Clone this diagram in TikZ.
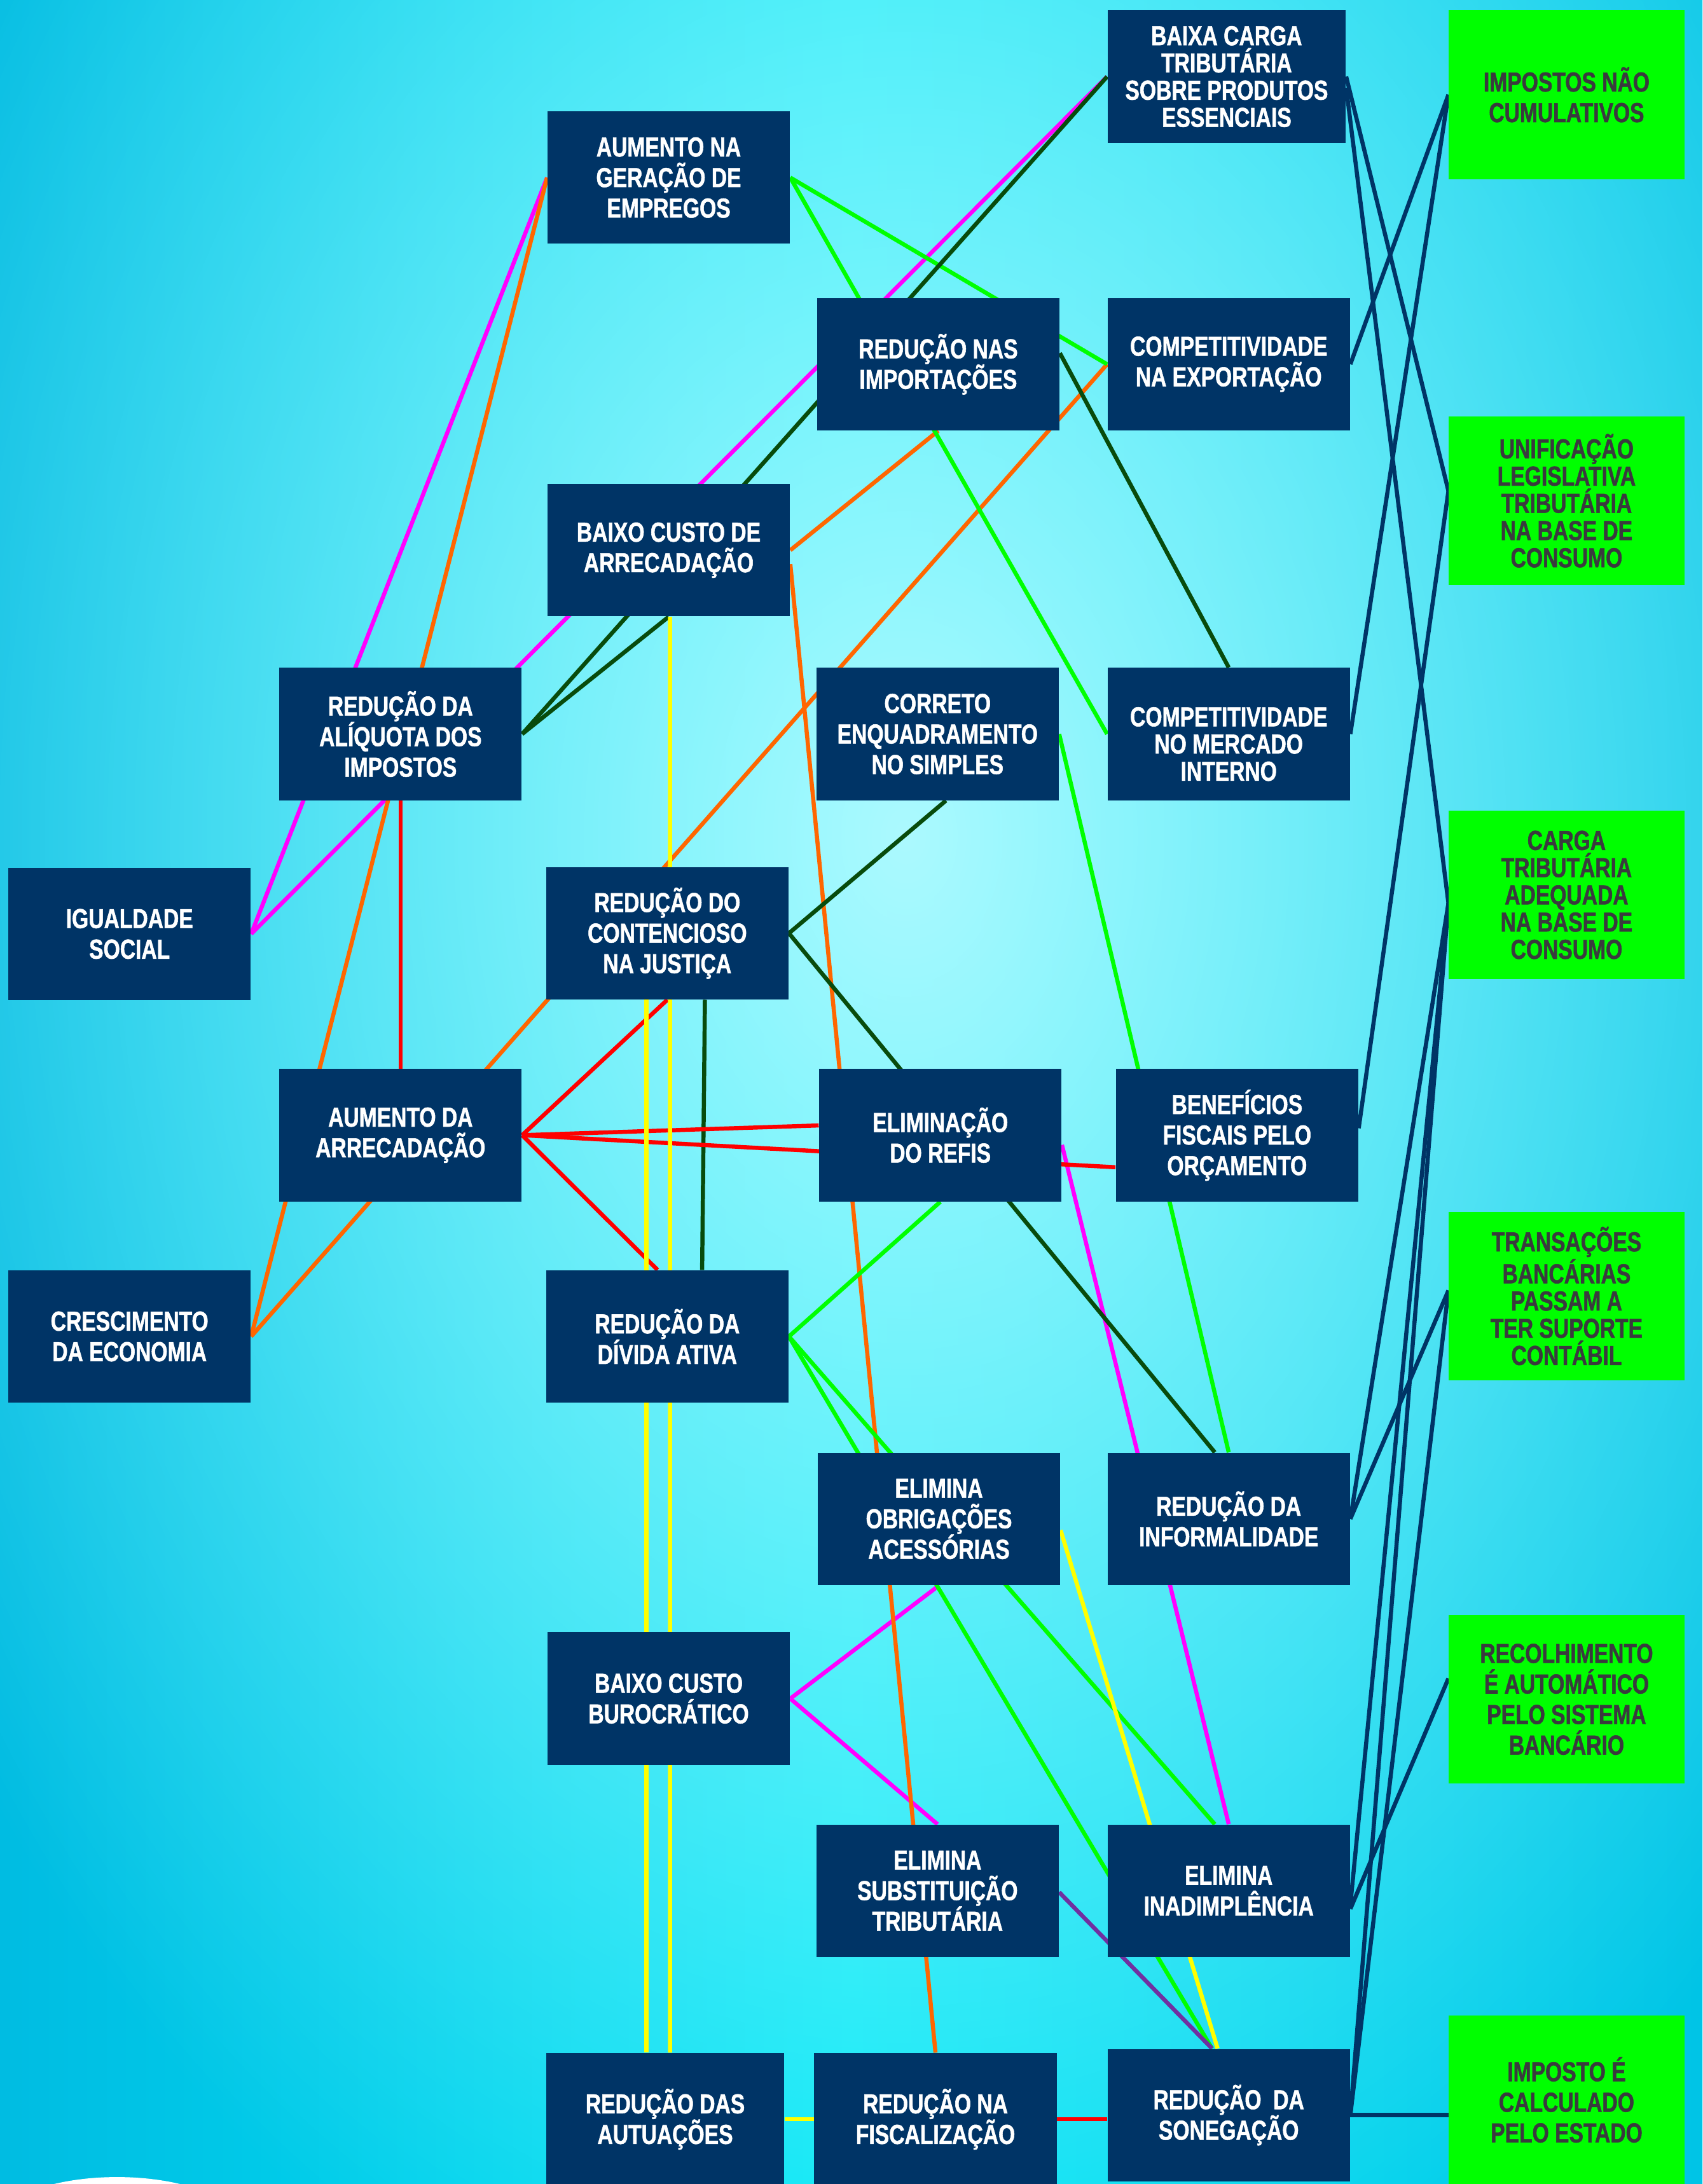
\documentclass[tikz,border=0pt]{standalone}
\usepackage{fontspec}
\setmainfont{Liberation Sans}[FakeStretch=0.78, BoldFeatures={FakeBold=1.2}]
\usetikzlibrary{calc,fadings}
\definecolor{boxblue}{RGB}{0,52,102}
\definecolor{goalgreen}{RGB}{0,255,0}
\definecolor{goaltext}{RGB}{58,58,62}
\definecolor{lmag}{RGB}{255,0,255}
\definecolor{lorange}{RGB}{255,102,0}
\definecolor{lgreen}{RGB}{0,255,0}
\definecolor{ldark}{RGB}{8,75,12}
\definecolor{lred}{RGB}{255,0,0}
\definecolor{lyellow}{RGB}{255,255,0}
\definecolor{lpurple}{RGB}{112,48,160}
\definecolor{bgL}{RGB}{0,188,226}
\definecolor{bgM}{RGB}{0,232,246}
\definecolor{bgR}{RGB}{0,196,230}
\definecolor{bgLight}{RGB}{172,250,255}
\tikzfading[name=blob, inner color=transparent!0, outer color=transparent!100]
\pgfdeclarelayer{bg}
\pgfdeclarelayer{links}
\pgfsetlayers{bg,links,main}
\tikzset{
  box/.style={minimum width=4.35cm, minimum height=2.375cm, inner sep=0pt, align=center},
  cause/.style={box, fill=boxblue, text=white, font=\fontsize{14}{15.6}\selectfont\bfseries},
  goal/.style={box, fill=goalgreen, text=goaltext, minimum width=4.225cm, minimum height=3.025cm,
    font=\fontsize{14}{15.6}\selectfont\bfseries},
  tight/.style={font=\fontsize{14}{13.9}\selectfont\bfseries},
  link/.style={line width=2.1pt}
}
\begin{document}
\begin{tikzpicture}[x=0.025cm, y=-0.025cm]
\useasboundingbox (0,0) rectangle (1222,1568);
\begin{pgfonlayer}{bg}
\fill[left color=bgL, right color=bgR, middle color=bgM] (0,0) rectangle (1222,1568);
\fill[bgLight, path fading=blob] (650,600) ellipse [x radius=820, y radius=1150];
\fill[white] (84,1600) ellipse [x radius=90, y radius=37];
\end{pgfonlayer}

\node[cause] (igualdade) at (93,670.5) {IGUALDADE\\SOCIAL};
\node[cause] (crescimento) at (93,959.5) {CRESCIMENTO\\DA ECONOMIA};
\node[cause] (aliquota) at (287.5,527) {REDUÇÃO DA\\ALÍQUOTA DOS\\IMPOSTOS};
\node[cause] (arrecadacao) at (287.5,815) {AUMENTO DA\\ARRECADAÇÃO};
\node[cause] (geracao) at (480,127.5) {AUMENTO NA\\GERAÇÃO DE\\EMPREGOS};
\node[cause] (baixoarr) at (480,395) {BAIXO CUSTO DE\\ARRECADAÇÃO};
\node[cause] (contencioso) at (479,670) {REDUÇÃO DO\\CONTENCIOSO\\NA JUSTIÇA};
\node[cause] (divida) at (479,959.5) {REDUÇÃO DA\\DÍVIDA ATIVA};
\node[cause] (burocratico) at (480,1219.5) {BAIXO CUSTO\\BUROCRÁTICO};
\node[cause, minimum width=4.275cm] (autuacoes) at (477.5,1521.5) {REDUÇÃO DAS\\AUTUAÇÕES};
\node[cause] (importacoes) at (673.5,261.5) {REDUÇÃO NAS\\IMPORTAÇÕES};
\node[cause] (correto) at (673,527) {CORRETO\\ENQUADRAMENTO\\NO SIMPLES};
\node[cause] (refis) at (675,815) {ELIMINAÇÃO\\DO REFIS};
\node[cause] (obrigacoes) at (674,1090.5) {ELIMINA\\OBRIGAÇÕES\\ACESSÓRIAS};
\node[cause] (substituicao) at (673,1357.5) {ELIMINA\\SUBSTITUIÇÃO\\TRIBUTÁRIA};
\node[cause] (fiscalizacao) at (671.5,1521.5) {REDUÇÃO NA\\FISCALIZAÇÃO};
\node[cause, tight, minimum width=4.275cm] (baixacarga) at (880.5,55) {BAIXA CARGA\\TRIBUTÁRIA\\SOBRE PRODUTOS\\ESSENCIAIS};
\node[cause] (exportacao) at (882,261.5) {COMPETITIVIDADE\\NA EXPORTAÇÃO};
\node[cause, tight] (mercado) at (882,527) {\rule{0pt}{20pt}COMPETITIVIDADE\\NO MERCADO\\INTERNO};
\node[cause] (beneficios) at (888,815) {BENEFÍCIOS\\FISCAIS PELO\\ORÇAMENTO};
\node[cause] (informalidade) at (882,1090.5) {REDUÇÃO DA\\INFORMALIDADE};
\node[cause] (inadimplencia) at (882,1357.5) {ELIMINA\\INADIMPLÊNCIA};
\node[cause] (sonegacao) at (882,1518.5) {REDUÇÃO\ \ DA\\SONEGAÇÃO};

\node[goal] (impostos) at (1124.5,68) {IMPOSTOS NÃO\\CUMULATIVOS};
\node[goal, tight] (unificacao) at (1124.5,359.5) {UNIFICAÇÃO\\LEGISLATIVA\\TRIBUTÁRIA\\NA BASE DE\\CONSUMO};
\node[goal, tight] (carga) at (1124.5,642.5) {CARGA\\TRIBUTÁRIA\\ADEQUADA\\NA BASE DE\\CONSUMO};
\node[goal, tight] (transacoes) at (1124.5,930.5) {TRANSAÇÕES\\BANCÁRIAS\\PASSAM A\\TER SUPORTE\\CONTÁBIL};
\node[goal] (recolhimento) at (1124.5,1220) {RECOLHIMENTO\\É AUTOMÁTICO\\PELO SISTEMA\\BANCÁRIO};
\node[goal] (calculado) at (1124.5,1507.5) {IMPOSTO É\\CALCULADO\\PELO ESTADO};

\begin{pgfonlayer}{links}
\draw[link, color=lmag] (igualdade.east) -- (geracao.west);
\draw[link, color=lmag] (igualdade.east) -- (baixacarga.west);
\draw[link, color=lmag] (burocratico.east) -- (obrigacoes.south);
\draw[link, color=lmag] (burocratico.east) -- (substituicao.north);
\draw[link, color=lmag] ($(refis.east)+(0,7)$) -- (inadimplencia.north);

\draw[link, color=lorange] (crescimento.east) -- (geracao.west);
\draw[link, color=lorange] (crescimento.east) -- (exportacao.west);
\draw[link, color=lorange] (baixoarr.east) -- (importacoes.south);
\draw[link, color=lorange] ($(baixoarr.east)+(0,10)$) -- (fiscalizacao.north);

\draw[link, color=lgreen] (geracao.east) -- (exportacao.west);
\draw[link, color=lgreen] (geracao.east) -- (mercado.west);
\draw[link, color=lgreen] (correto.east) -- (informalidade.north);
\draw[link, color=lgreen] (divida.east) -- (refis.south);
\draw[link, color=lgreen] (divida.east) -- ($(sonegacao.north)+(-12,0)$);
\draw[link, color=lgreen] (divida.east) -- ($(inadimplencia.north)+(-10,0)$);

\draw[link, color=ldark] (aliquota.east) -- (baixacarga.west);
\draw[link, color=ldark] (aliquota.east) -- (baixoarr.south);
\draw[link, color=ldark] ($(importacoes.east)+(0,-8)$) -- (mercado.north);
\draw[link, color=ldark] (contencioso.east) -- ($(correto.south)+(6,0)$);
\draw[link, color=ldark] (contencioso.east) -- ($(informalidade.north)+(-10,0)$);
\draw[link, color=ldark] ($(contencioso.south)+(27,0)$) -- ($(divida.north)+(25,0)$);

\draw[link, color=lred] (aliquota.south) -- (arrecadacao.north);
\draw[link, color=lred] (arrecadacao.east) -- (contencioso.south);
\draw[link, color=lred] (arrecadacao.east) -- ($(refis.west)+(0,-7)$);
\draw[link, color=lred] (arrecadacao.east) -- ($(beneficios.west)+(0,23)$);
\draw[link, color=lred] (arrecadacao.east) -- ($(divida.north)+(-7,0)$);
\draw[link, color=lred] (fiscalizacao.east) -- (fiscalizacao.east -| sonegacao.west);

\draw[link, color=lyellow] ($(baixoarr.south)+(1,0)$) -- ($(autuacoes.north)+(3.5,0)$);
\draw[link, color=lyellow] ($(contencioso.south)+(-15,0)$) -- ($(autuacoes.north)+(-13.5,0)$);
\draw[link, color=lyellow] (autuacoes.east) -- (fiscalizacao.west);
\draw[link, color=lyellow] ($(obrigacoes.east)+(0,8)$) -- ($(sonegacao.north)+(-8,0)$);

\draw[link, color=lpurple] ($(substituicao.east)+(0,1)$) -- ($(sonegacao.north)+(-12,0)$);

\draw[link, color=boxblue] (baixacarga.east) -- ($(unificacao.west)+(0,-7)$);
\draw[link, color=boxblue] ($(baixacarga.east)+(0,8)$) -- ($(carga.west)+(0,6)$);
\draw[link, color=boxblue] (exportacao.east) -- (impostos.west);
\draw[link, color=boxblue] (mercado.east) -- (impostos.west);
\draw[link, color=boxblue] ($(beneficios.east)+(0,-5)$) -- ($(unificacao.west)+(0,-7)$);
\draw[link, color=boxblue] (informalidade.east) -- ($(carga.west)+(0,6)$);
\draw[link, color=boxblue] ($(inadimplencia.east)+(0,10)$) -- ($(carga.west)+(0,6)$);
\draw[link, color=boxblue] (sonegacao.east) -- ($(carga.west)+(0,6)$);
\draw[link, color=boxblue] (informalidade.east) -- ($(transacoes.west)+(0,-4)$);
\draw[link, color=boxblue] (sonegacao.east) -- ($(transacoes.west)+(0,-4)$);
\draw[link, color=boxblue] ($(inadimplencia.east)+(0,13)$) -- ($(recolhimento.west)+(0,-15)$);
\draw[link, color=boxblue] (sonegacao.east) -- (sonegacao.east -| calculado.west);
\end{pgfonlayer}
\end{tikzpicture}
\end{document}
